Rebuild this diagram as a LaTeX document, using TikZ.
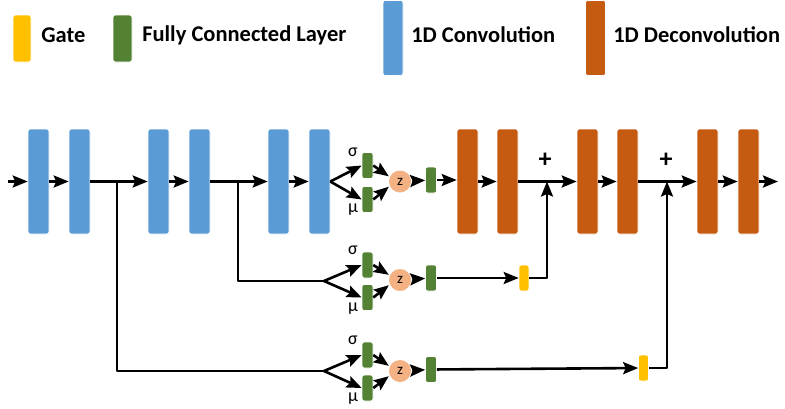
\documentclass[tikz,border=0pt]{standalone}
\usepackage{fontspec}
\setmainfont{Carlito}
\usetikzlibrary{arrows.meta}
\definecolor{gatecol}{HTML}{FFC000}
\definecolor{fccol}{HTML}{548235}
\definecolor{convcol}{HTML}{5B9BD5}
\definecolor{deconvcol}{HTML}{C55A11}
\definecolor{zcol}{HTML}{F4B183}
\begin{document}
\begin{tikzpicture}[x=1pt, y=-1pt, line width=2.6pt, line join=round,
    >={Stealth[length=15pt,width=12pt,inset=2.5pt]},
    blk/.style={rectangle, rounded corners=2.5pt, draw=white, line width=0.6pt, inner sep=0pt},
    conv/.style={blk, fill=convcol, minimum width=21pt, minimum height=105pt},
    deconv/.style={blk, fill=deconvcol, minimum width=21pt, minimum height=105pt},
    fc/.style={blk, fill=fccol, minimum width=11pt, minimum height=26pt},
    gate/.style={blk, fill=gatecol, minimum width=10pt, minimum height=26pt},
    zc/.style={circle, fill=zcol, minimum size=22pt, inner sep=0pt, font=\fontsize{15}{15}\selectfont},
    lbl/.style={inner sep=0pt, font=\fontsize{18}{18}\selectfont},
    plus/.style={inner sep=0pt, font=\fontsize{26}{26}\selectfont\bfseries},
    leg/.style={anchor=west, inner sep=0pt, font=\fontsize{22.5}{23}\selectfont\bfseries}]
\useasboundingbox (0,0) rectangle (785,408);
% legend
\node[blk, fill=gatecol, minimum width=18pt, minimum height=47pt] (lgate) at (22,38.5) {};
\node[leg] (tgate) at (40,35) {Gate};
\node[blk, fill=fccol, minimum width=19pt, minimum height=47pt] (lfc) at (122.5,38.5) {};
\node[leg] (tfc) at (141,35) {Fully Connected Layer};
\node[blk, fill=convcol, minimum width=20pt, minimum height=75pt] (lconv) at (393,38) {};
\node[leg] (tconv) at (410,35) {1D Convolution};
\node[blk, fill=deconvcol, minimum width=20pt, minimum height=75pt] (ldeconv) at (595.5,38) {};
\node[leg] (tdeconv) at (612,35) {1D Deconvolution};
% encoder
\coordinate (in) at (8,181.5);
\node[conv] (c1) at (38.5,181.5) {};
\node[conv] (c2) at (79.5,181.5) {};
\node[conv] (c3) at (158.5,181.5) {};
\node[conv] (c4) at (199.5,181.5) {};
\node[conv] (c5) at (278.5,181.5) {};
\node[conv] (c6) at (319.5,181.5) {};
\coordinate (b1) at (117,181.5);
\coordinate (b2) at (238,181.5);
% decoder
\node[deconv] (d1) at (467.5,181.5) {};
\node[deconv] (d2) at (507.5,181.5) {};
\node[deconv] (d3) at (587.5,181.5) {};
\node[deconv] (d4) at (627.5,181.5) {};
\node[deconv] (d5) at (707.5,181.5) {};
\node[deconv] (d6) at (748.5,181.5) {};
\coordinate (out) at (778,181.5);
\coordinate (j1) at (547,181.5);
\coordinate (j2) at (667,181.5);
\node[plus] (p1) at (545,160) {+};
\node[plus] (p2) at (666,160) {+};
% sampling, row 1
\node[fc] (s1) at (367.5,165.5) {};
\node[fc] (m1) at (367.5,199.5) {};
\node[lbl] at (353,152) {σ};
\node[lbl] at (353,210) {μ};
\node[zc] (z1) at (400,181.5) {z};
\node[fc] (f1) at (431,180) {};
% sampling, row 2
\coordinate (k2) at (324,281);
\node[fc] (s2) at (367.5,265) {};
\node[fc] (m2) at (367.5,297.5) {};
\node[lbl] at (353,250) {σ};
\node[lbl] at (353,309) {μ};
\node[zc] (z2) at (400,280) {z};
\node[fc] (f2) at (431,278) {};
\node[gate] (g2) at (524,278) {};
% sampling, row 3
\coordinate (k3) at (324,371);
\node[fc] (s3) at (367.5,355) {};
\node[fc] (m3) at (367.5,388) {};
\node[lbl] at (353,340) {σ};
\node[lbl] at (353,399) {μ};
\node[zc] (z3) at (400,371) {z};
\node[fc] (f3) at (431,369.5) {};
\node[gate] (g3) at (643.5,368) {};
% main line
\draw[->] (in) -- (c1);
\draw[->] (c1) -- (c2);
\draw[->] (c2) -- (c3);
\draw[->] (c3) -- (c4);
\draw[->] (c4) -- (c5);
\draw[->] (c5) -- (c6);
\draw[->] (c6.east) -- (s1.west);
\draw[->] (c6.east) -- (m1.west);
\draw[->] (s1.east) -- (z1.155);
\draw[->] (m1.east) -- (z1.205);
\draw[->] (z1) -- (f1);
\draw[->] (f1) -- (d1.west |- f1);
\draw[->] (d1) -- (d2);
\draw[->] (d2) -- (d3);
\draw[->] (d3) -- (d4);
\draw[->] (d4) -- (d5);
\draw[->] (d5) -- (d6);
\draw[->] (d6) -- (out);
% skip branches
\draw (b2) |- (k2);
\draw[->] (k2) -- (s2.west);
\draw[->] (k2) -- (m2.west);
\draw[->] (s2.east) -- (z2.155);
\draw[->] (m2.east) -- (z2.205);
\draw[->] (z2) -- (f2);
\draw[->] (f2) -- (g2);
\draw[->] (g2.east) -| (j1);
\draw (b1) |- (k3);
\draw[->] (k3) -- (s3.west);
\draw[->] (k3) -- (m3.west);
\draw[->] (s3.east) -- (z3.155);
\draw[->] (m3.east) -- (z3.205);
\draw[->] (z3) -- (f3);
\draw[->] (f3) -- (g3);
\draw[->] (g3.east) -| (j2);
\end{tikzpicture}
\end{document}
